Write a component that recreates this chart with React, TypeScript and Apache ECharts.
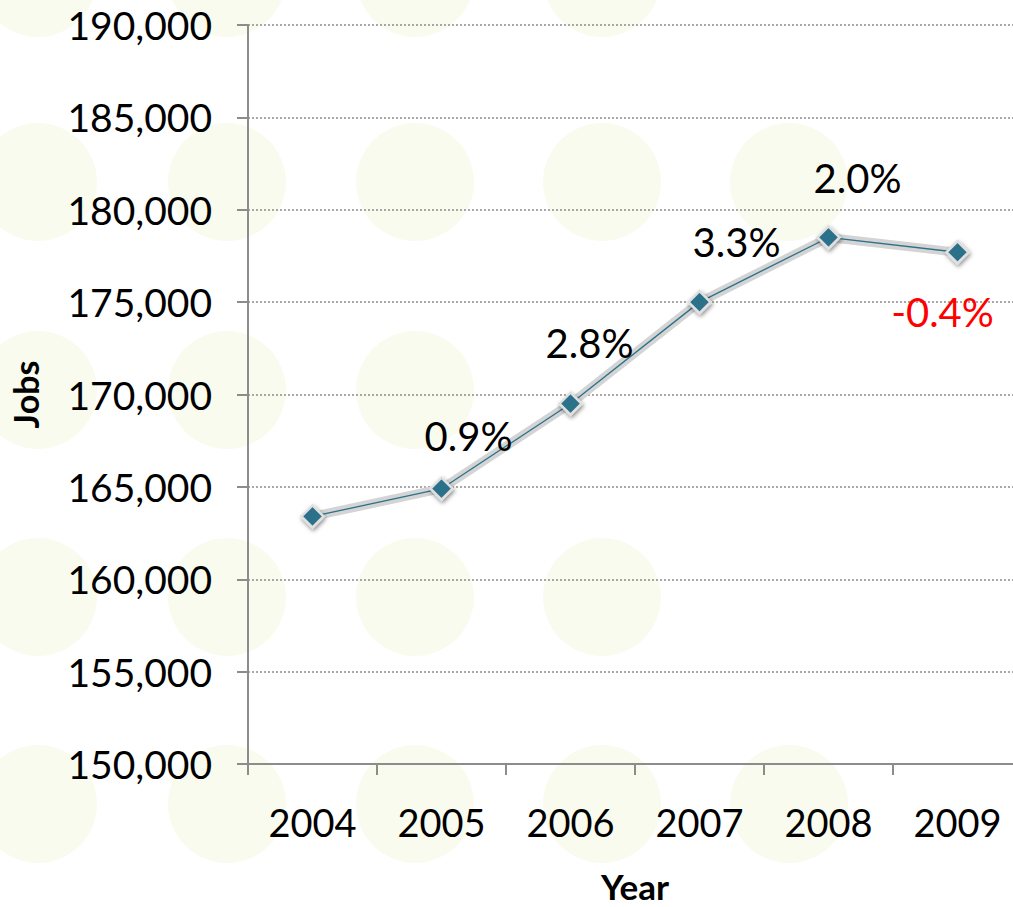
import React, { useEffect, useRef } from "react";
import * as echarts from "echarts";

const years = ["2004", "2005", "2006", "2007", "2008", "2009"];
const jobs = [163400, 164900, 169500, 175000, 178500, 177700];
const growthLabels = ["", "0.9%", "2.8%", "3.3%", "2.0%", "-0.4%"];
const yTicks = { min: 150000, max: 190000, interval: 5000 };

const FONT = "Lato, 'DejaVu Sans', sans-serif";
const labelOffsets: number[][] = [[0, 0], [27, -53], [19, -61], [37, -60], [29, -59], [-15, 60]];
const circleRows: { y: number; cols: number[] }[] = [
  { y: -22, cols: [38, 227, 415, 602] },
  { y: 182, cols: [38, 227, 415, 602, 789] },
  { y: 390, cols: [38, 227, 415] },
  { y: 597, cols: [38, 227, 415, 602] },
  { y: 804, cols: [38, 227, 415, 602, 789] },
];

export default function App() {
  const ref = useRef<HTMLDivElement>(null);
  useEffect(() => {
    document.body.style.margin = "0";
    if (!ref.current) return;
    const chart = echarts.init(ref.current, null, { renderer: "svg" });
    const circles: any[] = [];
    circleRows.forEach((r) =>
      r.cols.forEach((x) =>
        circles.push({
          type: "circle",
          shape: { cx: x, cy: r.y, r: 59 },
          style: { fill: "#f9fbee" },
          z: -10,
          silent: true,
        })
      )
    );
    chart.setOption({
      animation: false,
      backgroundColor: "#ffffff",
      graphic: circles,
      grid: {
        left: 248,
        top: 25,
        width: 774,
        height: 739,
        containLabel: false,
        outerBoundsMode: "none",
      },
      xAxis: {
        type: "category",
        data: years,
        boundaryGap: true,
        name: "Year",
        nameLocation: "middle",
        nameGap: 104,
        nameTextStyle: { fontFamily: FONT, fontWeight: "bold", fontSize: 35, color: "#000" },
        axisLine: { lineStyle: { color: "#8c8c8c", width: 2 } },
        axisTick: { show: true, length: 11, lineStyle: { color: "#8c8c8c", width: 2 } },
        axisLabel: { margin: 39, fontFamily: FONT, fontSize: 38, color: "#000" },
        splitLine: { show: false },
      },
      yAxis: {
        type: "value",
        min: yTicks.min,
        max: yTicks.max,
        interval: yTicks.interval,
        name: "Jobs",
        nameLocation: "middle",
        nameRotate: 90,
        nameGap: 206,
        nameTextStyle: { fontFamily: FONT, fontWeight: "bold", fontSize: 34, color: "#000" },
        axisLine: { show: true, lineStyle: { color: "#8c8c8c", width: 2 } },
        axisTick: { show: true, length: 11, lineStyle: { color: "#8c8c8c", width: 2 } },
        axisLabel: {
          margin: 36,
          fontFamily: FONT,
          fontSize: 39,
          color: "#000",
          formatter: (v: number) => v.toLocaleString("en-US"),
        },
        splitLine: { show: true, lineStyle: { color: "#8c8c8c", width: 1.5, type: [2, 2] } },
      },
      series: [
        {
          type: "line",
          data: jobs,
          symbol: "none",
          silent: true,
          lineStyle: { color: "#d4d4d4", width: 9 },
          z: 2,
        },
        {
          type: "line",
          data: jobs.map((v, i) => ({
            value: v,
            label: {
              show: growthLabels[i] !== "",
              formatter: growthLabels[i],
              position: "inside",
              offset: labelOffsets[i],
              color: growthLabels[i].startsWith("-") ? "#ff0000" : "#000000",
            },
          })),
          symbol: "diamond",
          symbolSize: 22,
          lineStyle: { color: "#2b7189", width: 1.3 },
          itemStyle: {
            color: "#2b7189",
            borderColor: "#e0e0e0",
            borderWidth: 2.5,
            shadowColor: "rgba(0,0,0,0.45)",
            shadowBlur: 4,
            shadowOffsetX: 1,
            shadowOffsetY: 2,
          },
          label: { fontFamily: FONT, fontSize: 40 },
          z: 3,
        },
      ],
    });
    return () => chart.dispose();
  }, []);
  return <div ref={ref} style={{ width: 1013, height: 907 }} />;
}
